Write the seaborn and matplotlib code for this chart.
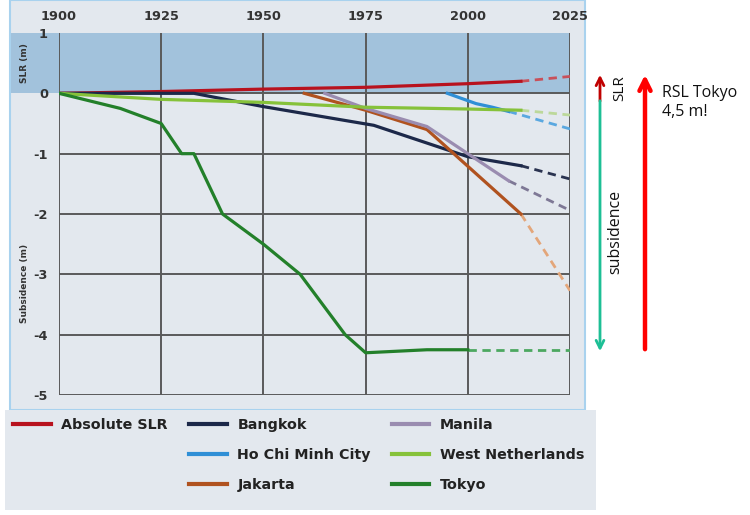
import matplotlib
matplotlib.use("Agg")
import matplotlib.pyplot as plt
from matplotlib.patches import Rectangle, FancyArrowPatch
from matplotlib.lines import Line2D
import numpy as np
import pandas as pd
import seaborn as sns

# ---- observed series (year, metres) ----
slr_years = [1900, 1925, 1950, 1975, 2000, 2013]
slr_vals = [0.0, 0.03, 0.07, 0.10, 0.16, 0.20]

bangkok_years = [1900, 1933, 1950, 1970, 1977, 2000, 2013]
bangkok_vals = [0.0, 0.0, -0.22, -0.45, -0.53, -1.05, -1.20]

hcmc_years = [1995, 2002, 2006, 2010]
hcmc_vals = [0.0, -0.17, -0.23, -0.30]

jakarta_years = [1960, 1975, 1990, 2013]
jakarta_vals = [0.0, -0.28, -0.60, -2.00]

manila_years = [1965, 1975, 1990, 2000, 2010]
manila_vals = [0.0, -0.25, -0.55, -1.00, -1.45]

wnl_years = [1900, 1925, 1950, 1975, 2000, 2013]
wnl_vals = [0.0, -0.10, -0.15, -0.23, -0.26, -0.28]

tokyo_years = [1900, 1915, 1925, 1930, 1933, 1940, 1950, 1959, 1970, 1975, 1990, 2000]
tokyo_vals = [0.0, -0.25, -0.5, -1.0, -1.0, -2.0, -2.5, -3.0, -4.0, -4.3, -4.25, -4.25]

# ---- projections to 2025 ----
proj_end_year = 2025
slr_proj = 0.28
bangkok_proj = -1.42
hcmc_proj = -0.59
jakarta_proj = -3.27
manila_proj = -1.94
wnl_proj = -0.36
tokyo_proj = -4.25

series_names = ["Absolute SLR", "Bangkok", "Ho Chi Minh City", "Jakarta",
                "Manila", "West Netherlands", "Tokyo"]
x_ticks = [1900, 1925, 1950, 1975, 2000, 2025]
y_ticks = [-5, -4, -3, -2, -1, 0, 1]

colors = {
    "Absolute SLR": "#B8121E",
    "Bangkok": "#1C2849",
    "Ho Chi Minh City": "#2F8FD6",
    "Jakarta": "#B0521F",
    "Manila": "#9A8CB0",
    "West Netherlands": "#86C23A",
    "Tokyo": "#23802A",
}
proj_colors = {
    "Absolute SLR": "#C8505A",
    "Bangkok": "#2A3350",
    "Ho Chi Minh City": "#5AA8E0",
    "Jakarta": "#E3A67A",
    "Manila": "#7E7895",
    "West Netherlands": "#BCD89A",
    "Tokyo": "#4CA860",
}

observed = {
    "Absolute SLR": (slr_years, slr_vals, slr_proj),
    "Bangkok": (bangkok_years, bangkok_vals, bangkok_proj),
    "Ho Chi Minh City": (hcmc_years, hcmc_vals, hcmc_proj),
    "Jakarta": (jakarta_years, jakarta_vals, jakarta_proj),
    "Manila": (manila_years, manila_vals, manila_proj),
    "West Netherlands": (wnl_years, wnl_vals, wnl_proj),
    "Tokyo": (tokyo_years, tokyo_vals, tokyo_proj),
}

rows, proj_rows = [], []
for name in series_names:
    yrs, vals, pv = observed[name]
    for i, (yr, v) in enumerate(zip(yrs, vals)):
        rows.append({"city": name, "year": yr, "value": v, "order": i})
    proj_rows.append({"city": name, "year": yrs[-1], "value": vals[-1], "order": 0})
    proj_rows.append({"city": name, "year": proj_end_year, "value": pv, "order": 1})
df = pd.DataFrame(rows)
df_proj = pd.DataFrame(proj_rows)

plt.rcParams["axes.unicode_minus"] = False

W, H = 750, 515
fig = plt.figure(figsize=(W / 100, H / 100), dpi=100)
fig.patch.set_facecolor("white")


def fx(px):
    return px / W


def fy(py):
    return 1 - py / H


# chart panel and legend panel backgrounds
panel_bg = "#E3E8EE"
fig.add_artist(Rectangle((fx(10), fy(410)), fx(585) - fx(10), fy(0) - fy(410),
                         transform=fig.transFigure, fc=panel_bg, ec="#A9D2EE", lw=1.5, zorder=0))
fig.add_artist(Rectangle((fx(5), fy(510)), fx(596) - fx(5), fy(410) - fy(510),
                         transform=fig.transFigure, fc=panel_bg, ec="none", zorder=0))
# SLR band continues under the y tick labels
fig.add_artist(Rectangle((fx(11), fy(93)), fx(59) - fx(11), fy(33) - fy(93),
                         transform=fig.transFigure, fc="#A2C2DC", ec="none", zorder=0))

ax_l, ax_r, ax_t, ax_b = 59, 570, 33, 395
ax = fig.add_axes([fx(ax_l), fy(ax_b), fx(ax_r) - fx(ax_l), fy(ax_t) - fy(ax_b)])
ax.set_facecolor("none")
ax.axhspan(0, 1, color="#A2C2DC", zorder=0, lw=0)

sns.lineplot(data=df_proj, x="year", y="value", hue="city", units="city",
             estimator=None, sort=False, palette=proj_colors, hue_order=series_names,
             linewidth=2.0, linestyle=(0, (3, 2)), legend=False, ax=ax, zorder=3)
sns.lineplot(data=df, x="year", y="value", hue="city", units="city",
             estimator=None, sort=False, palette=colors, hue_order=series_names,
             linewidth=2.3, legend=False, ax=ax, zorder=4)

ax.set_xlim(1900, 2025)
ax.set_ylim(-5, 1)
ax.set_xticks(x_ticks)
ax.set_yticks(y_ticks)
ax.xaxis.tick_top()
ax.tick_params(axis="both", length=0, labelsize=9.3, labelcolor="#333333")
ax.tick_params(axis="x", pad=7)
ax.tick_params(axis="y", pad=8)
for lab in ax.get_xticklabels() + ax.get_yticklabels():
    lab.set_fontweight("bold")
ax.grid(True, color="#5A5A5A", lw=1.4, zorder=1)
ax.set_axisbelow(True)
ax.get_ygridlines()[-1].set_visible(False)
for s in ax.spines.values():
    s.set_visible(False)
ax.set_xlabel("")
ax.set_ylabel("")

fig.text(fx(25), fy(63), "SLR (m)", rotation=90, ha="center", va="center",
         fontsize=6.5, fontweight="bold", color="#333333")
fig.text(fx(25), fy(283), "Subsidence (m)", rotation=90, ha="center", va="center",
         fontsize=6.5, fontweight="bold", color="#333333")

# legend in three columns (first column has a single entry)
handles, labels = [], []
for name in series_names:
    handles.append(Line2D([], [], color=colors[name], lw=3))
    labels.append(name)
blank = Line2D([], [], color="none")
order_h = [handles[0], blank, blank, handles[1], handles[2], handles[3],
           handles[4], handles[5], handles[6]]
order_l = [labels[0], "", "", labels[1], labels[2], labels[3],
           labels[4], labels[5], labels[6]]
leg = fig.legend(order_h, order_l, ncol=3, loc="upper left",
                 bbox_to_anchor=(fx(2), fy(407)), frameon=False,
                 prop={"size": 10.3, "weight": "bold"}, handlelength=2.6,
                 handletextpad=0.75, columnspacing=1.5, labelspacing=1.1,
                 borderpad=0.3)
for t in leg.get_texts():
    t.set_color("#222222")

# annotation arrows on the right
def arrow(x, y0, y1, color, lw, ms):
    fig.add_artist(FancyArrowPatch((fx(x), fy(y0)), (fx(x), fy(y1)),
                                   transform=fig.transFigure, arrowstyle="->",
                                   mutation_scale=ms, color=color, lw=lw))

arrow(600, 104, 72, "#C00000", 2.0, 14)
arrow(600, 98, 354, "#1DBF95", 2.0, 14)
arrow(645, 352, 72, "#FF0000", 3.2, 20)

txt_font = ["Open Sans", "DejaVu Sans"]
fig.text(fx(612), fy(88), "SLR", rotation=90, ha="left", va="center",
         fontsize=11, family=txt_font, color="#111111")
fig.text(fx(607), fy(232), "subsidence", rotation=90, ha="left", va="center",
         fontsize=11.5, family=txt_font, color="#111111")
fig.text(fx(662), fy(85), "RSL Tokyo\n4,5 m!", ha="left", va="top",
         fontsize=11.5, family=txt_font, color="#111111", linespacing=1.25)

fig.savefig("out.png", dpi=100, facecolor="white")
